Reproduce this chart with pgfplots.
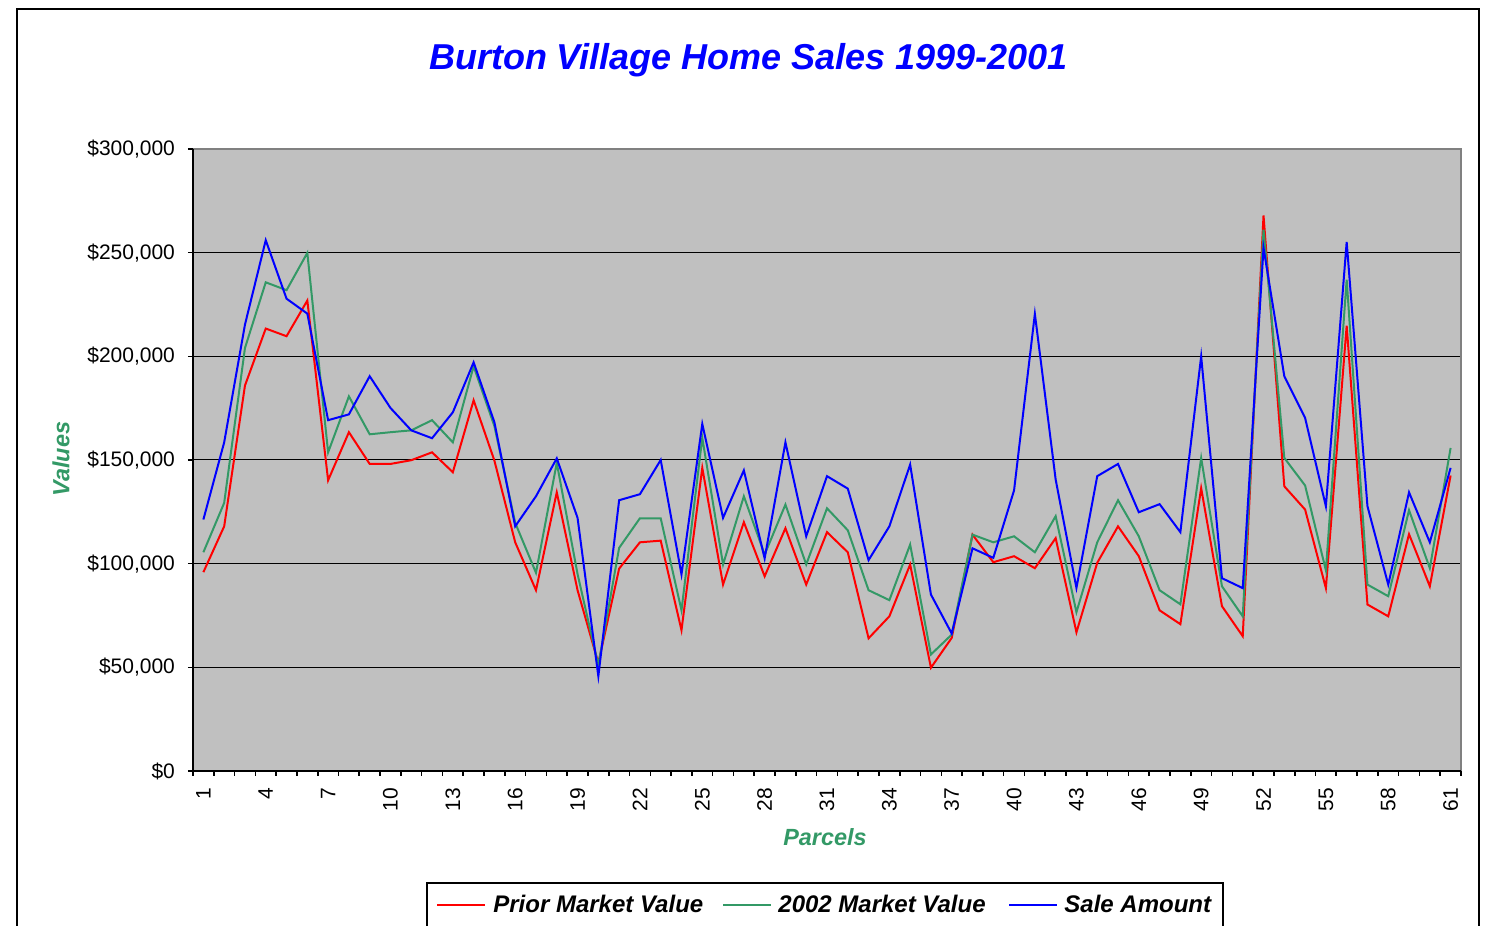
\documentclass[border=0pt]{standalone}
\usepackage{pgfplots}
\pgfplotsset{compat=1.18}
\usepackage{pgfplotstable}
\usepackage{fontspec}
\setmainfont{Liberation Sans}
\setsansfont{Liberation Sans}
\definecolor{sgreen}{HTML}{339966}
\definecolor{plotgray}{HTML}{C0C0C0}
\definecolor{bordergray}{HTML}{808080}
\pgfplotstableread{
x P G S
1 95900 105500 121300
2 118000 129300 158500
3 185900 204000 215300
4 213400 235700 256000
5 209700 231900 227800
6 226900 249900 220600
7 140200 153700 169200
8 163400 180700 172000
9 148100 162400 190400
10 148100 163400 175100
11 149900 164300 164300
12 153700 169200 160500
13 144100 158500 173000
14 178800 195200 197100
15 149700 166300 168200
16 110300 119700 118000
17 87200 95600 132500
18 134400 148600 150800
19 87200 95000 122100
20 52000 51000 45700
21 97600 107600 130600
22 110300 121900 133500
23 111100 121900 150000
24 67900 77500 94800
25 146200 160700 167400
26 89900 99600 122100
27 120000 132500 145000
28 93900 104400 102500
29 117100 128500 158500
30 89900 99600 113200
31 115200 126700 142200
32 105500 116100 136200
33 64000 87200 101700
34 74600 82400 118000
35 99600 109200 147800
36 49800 56200 85100
37 64200 65800 66300
38 114000 114000 107400
39 100700 110300 102800
40 103600 113200 135400
41 97800 105500 220500
42 112300 122900 140600
43 66900 76600 88300
44 100400 110300 142200
45 118000 130600 148100
46 103600 113200 124800
47 77500 87200 128700
48 70800 80400 115200
49 136400 151000 200000
50 79500 89100 93000
51 65000 74600 88200
52 267900 261100 252300
53 137300 151000 190400
54 126100 137700 170300
55 88200 96800 127700
56 214800 237000 255200
57 80300 89900 127700
58 74600 84300 89900
59 114200 125800 134400
60 89100 97800 110300
61 142500 155800 146200
}\datatable
\begin{document}
\begin{tikzpicture}[x=0.5pt,y=0.5pt]
\useasboundingbox (0,0) rectangle (1489,926);
\clip (0,0) rectangle (1489,926);
\draw[line width=1pt] (17,917) rectangle (1479,-100);
\node[anchor=base, font=\fontsize{18}{20}\selectfont\bfseries\itshape, text=blue] at (748.5,856) {Burton Village Home Sales 1999-2001};
\begin{axis}[
  at={(96.5pt,77.5pt)}, anchor=south west,
  scale only axis, width=634pt, height=311pt,
  xmin=0.5, xmax=61.5, ymin=0, ymax=300000,
  axis background/.style={fill=plotgray},
  axis line style={draw=none},
  xtick={1,4,...,61},
  minor xtick={0.5,1.5,...,61.5},
  major x tick style={draw=none},
  ytick={0,50000,100000,150000,200000,250000,300000},
  yticklabels={{\$0},{\$50,000},{\$100,000},{\$150,000},{\$200,000},{\$250,000},{\$300,000}},
  scaled y ticks=false,
  xtick pos=left, ytick pos=left,
  tick align=outside,
  major tick length=2.5pt, minor tick length=2.5pt,
  tick style={black, line width=0.8pt},
  ymajorgrids, grid style={black, line width=0.5pt},
  /pgf/number format/assume math mode=true,
  ticklabel style={font=\fontsize{10.5}{12}\selectfont},
  xticklabel style={rotate=90, anchor=east, xshift=-2.5pt},
  yticklabel style={xshift=-3pt},
  clip=false,
  after end axis/.code={
    \draw[bordergray, line width=1pt] (rel axis cs:0,1) -- (rel axis cs:1,1) -- (rel axis cs:1,0);
    \draw[black, line width=1pt] (rel axis cs:0,1) -- (rel axis cs:0,0) -- (rel axis cs:1,0);
  },
]
\addplot[red, line width=1pt] table[x=x, y=P] {\datatable};
\addplot[sgreen, line width=1pt] table[x=x, y=G] {\datatable};
\addplot[blue, line width=1pt] table[x=x, y=S] {\datatable};
\end{axis}
\node[rotate=90, font=\fontsize{11.7}{13}\selectfont\bfseries\itshape, text=sgreen] at (61,467) {Values};
\node[font=\fontsize{11.7}{13}\selectfont\bfseries\itshape, text=sgreen] at (825,89) {Parcels};
\draw[line width=1pt] (427,43) rectangle (1222.5,-60);
\draw[red, line width=1pt] (437,21) -- (485,21);
\draw[sgreen, line width=1pt] (723,21) -- (771,21);
\draw[blue, line width=1pt] (1009,21) -- (1057,21);
\node[anchor=base west, inner sep=0pt, font=\fontsize{12}{14}\selectfont\bfseries\itshape] at (493,13) {Prior Market Value};
\node[anchor=base west, inner sep=0pt, font=\fontsize{12}{14}\selectfont\bfseries\itshape] at (778,13) {2002 Market Value};
\node[anchor=base west, inner sep=0pt, font=\fontsize{12}{14}\selectfont\bfseries\itshape] at (1064,13) {Sale Amount};
\end{tikzpicture}
\end{document}
